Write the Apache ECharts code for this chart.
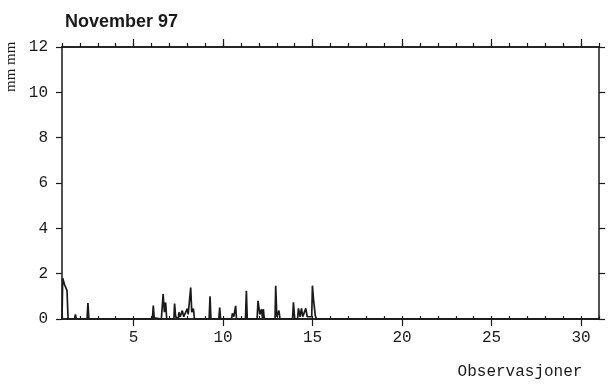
<!DOCTYPE html>
<html>
<head>
<meta charset="utf-8">
<script src="https://cdn.jsdelivr.net/npm/echarts@6/dist/echarts.min.js"></script>
<style>
  html, body { margin: 0; padding: 0; background: #fff; }
  #chart { width: 616px; height: 384px; }
</style>
</head>
<body>
<div id="chart"></div>
<script>
const obsX = [
  1.0, 1.04, 1.15, 1.28, 1.34, 1.7, 1.75, 1.8, 2.4, 2.45, 2.5,
  6.05, 6.1, 6.15, 6.55, 6.65, 6.72, 6.79, 6.85, 7.25, 7.29, 7.35,
  7.5, 7.53, 7.6, 7.72, 7.8, 8.0, 8.05, 8.19, 8.25, 8.34, 8.4,
  9.22, 9.27, 9.32, 9.76, 9.81, 9.86, 10.47, 10.52, 10.6, 10.7, 10.75,
  11.25, 11.3, 11.35, 11.9, 11.95, 12.05, 12.14, 12.2, 12.25, 12.3,
  12.9, 12.94, 13.0, 13.12, 13.18, 13.88, 13.93, 14.0, 14.16, 14.21,
  14.3, 14.38, 14.45, 14.62, 14.7, 14.95, 14.99, 15.05, 15.15, 15.22,
  17.2, 17.3, 17.4, 31
]
const obsMm = [
  0, 1.8, 1.5, 1.25, 0, 0, 0.2, 0, 0, 0.7, 0,
  0, 0.59, 0.05, 0, 1.1, 0.3, 0.73, 0, 0, 0.68, 0.1,
  0, 0.3, 0.1, 0.37, 0.1, 0.46, 0.2, 1.39, 0.3, 0.46, 0,
  0, 1.0, 0, 0, 0.5, 0, 0, 0.25, 0.1, 0.58, 0,
  0, 1.24, 0, 0, 0.8, 0.2, 0.43, 0.05, 0.44, 0,
  0, 1.47, 0.1, 0.37, 0, 0, 0.74, 0, 0, 0.47,
  0.1, 0.47, 0.1, 0.47, 0.1, 0.1, 1.47, 0.88, 0.15, 0,
  0, 0.05, 0, 0
]
const xMajor = [5, 10, 15, 20, 25, 30]

const INK = '#1a1a1a'
const MONO = '"Liberation Mono", "DejaVu Sans Mono", monospace'

const chart = echarts.init(document.getElementById('chart'))

const baseX = {
  type: 'value', min: 1, max: 31, interval: 1,
  splitLine: { show: false },
  axisLine: { show: true, onZero: false, lineStyle: { color: INK, width: 1.5 } },
  axisLabel: { show: false },
}

chart.setOption({
  animation: false,
  title: {
    text: 'November 97',
    left: 60, top: 8,
    textStyle: { fontFamily: '"Liberation Sans", Arial, sans-serif', fontSize: 18, fontWeight: 'bold', color: INK },
  },
  grid: { left: 62, right: 17, top: 47, bottom: 65 },
  xAxis: [
    // bottom, small inward ticks every unit
    { ...baseX, position: 'bottom', axisTick: { inside: true, length: 3, lineStyle: { color: INK, width: 1.2 } } },
    // bottom, long outward ticks + labels at 5s
    {
      ...baseX, position: 'bottom',
      axisTick: { customValues: xMajor, length: 7, lineStyle: { color: INK, width: 1.2 } },
      axisLabel: { show: true, customValues: xMajor, margin: 11, fontFamily: MONO, fontSize: 16, color: INK },
    },
    // top, short outward ticks
    { ...baseX, position: 'top', axisTick: { length: 4, lineStyle: { color: INK, width: 1.2 } } },
    // top, longer ticks at 5s
    { ...baseX, position: 'top', axisTick: { customValues: xMajor, length: 8, lineStyle: { color: INK, width: 1.2 } } },
  ],
  yAxis: [
    {
      type: 'value', min: 0, max: 12, interval: 2, position: 'left',
      splitLine: { show: false },
      axisLine: { show: true, lineStyle: { color: INK, width: 1.5 } },
      axisTick: { length: 6, lineStyle: { color: INK, width: 1.2 } },
      axisLabel: { margin: 14, fontFamily: MONO, fontSize: 16, color: INK },
    },
    {
      type: 'value', min: 0, max: 12, interval: 2, position: 'right',
      splitLine: { show: false },
      axisLine: { show: true, lineStyle: { color: INK, width: 1.5 } },
      axisTick: { length: 6, lineStyle: { color: INK, width: 1.2 } },
      axisLabel: { show: false },
    },
  ],
  series: [{
    type: 'line',
    xAxisIndex: 0, yAxisIndex: 0,
    showSymbol: false,
    lineStyle: { color: INK, width: 1.7 },
    data: obsX.map((x, i) => [x, obsMm[i]]),
  }],
  graphic: [
    {
      type: 'text', x: 4, y: 92, rotation: Math.PI / 2,
      style: { text: 'mm mm', fontFamily: '"Liberation Serif", serif', fontSize: 15, fill: INK },
    },
    {
      type: 'text', x: 520, y: 372,
      style: { text: 'Observasjoner', fontFamily: MONO, fontSize: 16, fill: INK, align: 'center', verticalAlign: 'middle' },
    },
  ],
})
</script>
</body>
</html>
